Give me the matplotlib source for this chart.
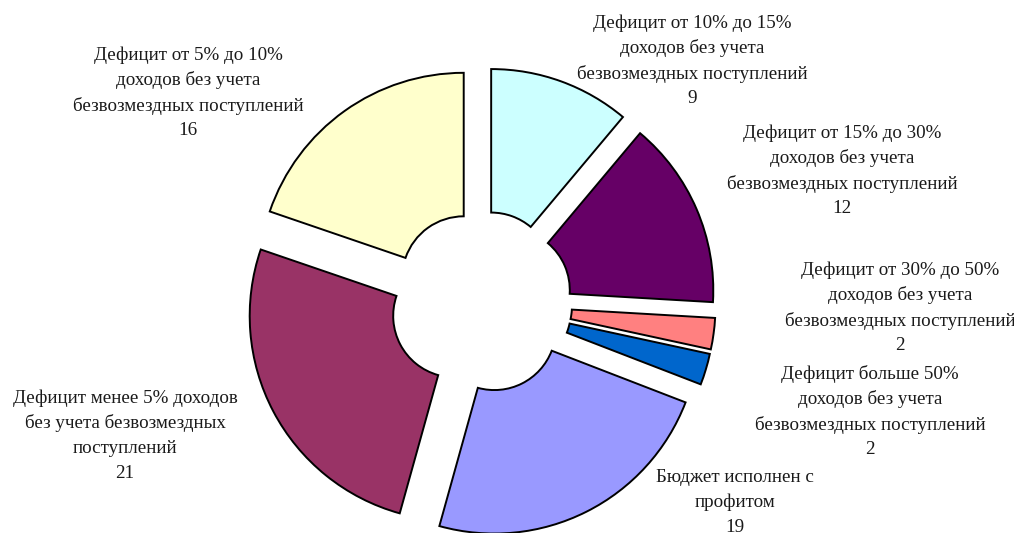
import matplotlib

matplotlib.use("Agg")
import matplotlib.pyplot as plt

# slices clockwise from 12 o'clock
values = [9, 12, 2, 2, 19, 21, 16]
labels = [
    "Дефицит от 10% до 15%\nдоходов без учета\nбезвозмездных поступлений",
    "Дефицит от 15% до 30%\nдоходов без учета\nбезвозмездных поступлений",
    "Дефицит от 30% до 50%\nдоходов без учета\nбезвозмездных поступлений",
    "Дефицит больше 50%\nдоходов без учета\nбезвозмездных поступлений",
    "Бюджет исполнен с\nпрофитом",
    "Дефицит менее 5% доходов\nбез учета безвозмездных\nпоступлений",
    "Дефицит от 5% до 10%\nдоходов без учета\nбезвозмездных поступлений",
]
colors = ["#ccffff", "#660066", "#ff8080", "#0066cc", "#9999ff", "#993366", "#ffffcc"]

# label anchor (centre of first line), in pixels from top-left
label_pos = [(692, 23), (842, 133), (900, 270), (870, 374), (735, 477), (125, 398), (188, 55)]

W, H = 1014, 533
CX, CY, R = 481, 302, 205   # pie centre and radius in pixels
LINE = 25.3

plt.rcParams["font.family"] = ["Liberation Serif", "DejaVu Serif"]

fig = plt.figure(figsize=(W / 100, H / 100), dpi=100)
ax = fig.add_axes([0, 0, 1, 1])
ax.pie(values, colors=colors, startangle=90, counterclock=False,
       explode=[0.145] * len(values), radius=1,
       wedgeprops={"width": 0.7, "edgecolor": "black", "linewidth": 1.4})
ax.set_aspect("auto")
ax.set_xlim(-CX / R, (W - CX) / R)
ax.set_ylim(-(H - CY) / R, CY / R)
ax.axis("off")

for lab, v, (px, py) in zip(labels, values, label_pos):
    lines = lab.split("\n") + [str(v)]
    for i, ln in enumerate(lines):
        fig.text(px / W, 1 - (py + i * LINE) / H, ln, ha="center", va="center",
                 fontsize=13.7, color="#1a1a1a")

fig.savefig("out.png", dpi=100, facecolor="white")
